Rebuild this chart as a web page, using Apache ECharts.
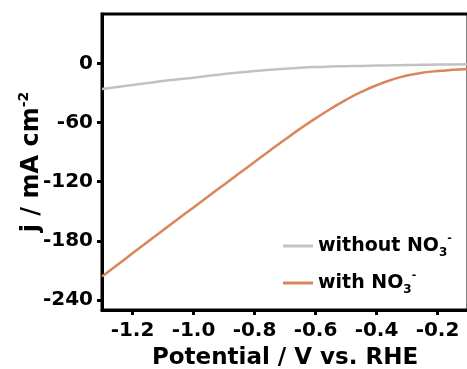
<!DOCTYPE html>
<html>
<head>
<meta charset="utf-8">
<script src="https://cdn.jsdelivr.net/npm/echarts@6/dist/echarts.min.js"></script>
<style>
html,body{margin:0;padding:0;background:#fff;}
#chart{width:467px;height:369px;}
</style>
</head>
<body>
<div id="chart"></div>
<script>
const potentials = [-1.30,-1.25,-1.20,-1.15,-1.10,-1.05,-1.00,-0.95,-0.90,-0.85,-0.80,-0.75,-0.70,-0.65,-0.60,-0.55,-0.50,-0.45,-0.40,-0.35,-0.30,-0.25,-0.20,-0.15,-0.10];
const withoutNO3 = [-26,-24,-22,-20,-18,-16.2,-14.5,-12.6,-10.8,-9.2,-7.8,-6.5,-5.4,-4.5,-3.8,-3.3,-2.9,-2.6,-2.3,-2.05,-1.8,-1.55,-1.3,-1.1,-0.9];
const withNO3 = [-216,-204.3,-192.6,-180.9,-169.2,-157.5,-146,-134.5,-123,-111.5,-100,-88.5,-77.2,-66.2,-55.8,-46,-37,-29,-22.2,-16.6,-12.4,-9.6,-7.8,-6.6,-5.7];
const xTicks = [-1.2,-1.0,-0.8,-0.6,-0.4,-0.2];
const yTicks = [-240,-180,-120,-60,0];
const seriesNames = ['without', 'with'];

const FONT = 'DejaVu Sans';
const chart = echarts.init(document.getElementById('chart'), null, {renderer:'canvas'});
const pairs = (ys) => potentials.map((x,i)=>[x, ys[i]]);
const supSub = {
  main:{fontFamily:FONT,fontWeight:'bold',fontSize:19,color:'#000',lineHeight:26,verticalAlign:'middle'},
  sub:{fontFamily:FONT,fontWeight:'bold',fontSize:12,color:'#000',verticalAlign:'bottom',lineHeight:14},
  sup:{fontFamily:FONT,fontWeight:'bold',fontSize:11,color:'#000',verticalAlign:'top',lineHeight:12}
};
chart.setOption({
  animation:false,
  grid:{left:102, right:-1, top:14, bottom:59, show:true, borderColor:'#000', borderWidth:3, containLabel:false, outerBoundsMode:'none'},
  xAxis:{
    type:'value', min:-1.3, max:-0.1,
    name:'Potential / V vs. RHE', nameLocation:'middle', nameGap:37, nameMoveOverlap:false,
    nameTextStyle:{fontFamily:FONT,fontWeight:'bold',fontSize:23,color:'#000'},
    axisLine:{show:true,onZero:false,lineStyle:{color:'#000',width:3}},
    axisTick:{show:true,length:5,lineStyle:{color:'#000',width:3},customValues:xTicks},
    axisLabel:{customValues:xTicks,fontFamily:FONT,fontWeight:'bold',fontSize:20,color:'#000',margin:11,formatter:(v)=>v.toFixed(1)},
    splitLine:{show:false}
  },
  yAxis:{
    type:'value', min:-250, max:50,
    name:'{m|j / mA cm}{s|-2}', nameLocation:'middle', nameGap:55, nameRotate:90, nameMoveOverlap:false,
    nameTextStyle:{fontFamily:FONT,fontWeight:'bold',fontSize:24,color:'#000',
      rich:{m:{fontFamily:FONT,fontWeight:'bold',fontSize:24,color:'#000',lineHeight:30},
            s:{fontFamily:FONT,fontWeight:'bold',fontSize:14,color:'#000',verticalAlign:'top',lineHeight:14}}},
    axisLine:{show:true,onZero:false,lineStyle:{color:'#000',width:3}},
    axisTick:{show:true,length:5,lineStyle:{color:'#000',width:3},customValues:yTicks},
    axisLabel:{customValues:yTicks,fontFamily:FONT,fontWeight:'bold',fontSize:20,color:'#000',margin:9},
    splitLine:{show:false}
  },
  legend:{
    orient:'vertical', left:278, top:228, itemGap:11, itemWidth:30, itemHeight:3, icon:'rect',
    data:seriesNames,
    formatter:(n)=> n==='without' ? '{main|without NO}{sub|3}{sup|-}' : '{main|with NO}{sub|3}{sup|-}',
    textStyle:{fontFamily:FONT,fontWeight:'bold',fontSize:19,color:'#000',rich:supSub}
  },
  series:[
    {name:'without', type:'line', data:pairs(withoutNO3), smooth:true, showSymbol:false, symbol:'none',
     lineStyle:{color:'#c2c2c2',width:2.5}, itemStyle:{color:'#c2c2c2'}},
    {name:'with', type:'line', data:pairs(withNO3), smooth:true, showSymbol:false, symbol:'none',
     lineStyle:{color:'#d8875a',width:2.5}, itemStyle:{color:'#d8875a'}}
  ]
});
</script>
</body>
</html>
